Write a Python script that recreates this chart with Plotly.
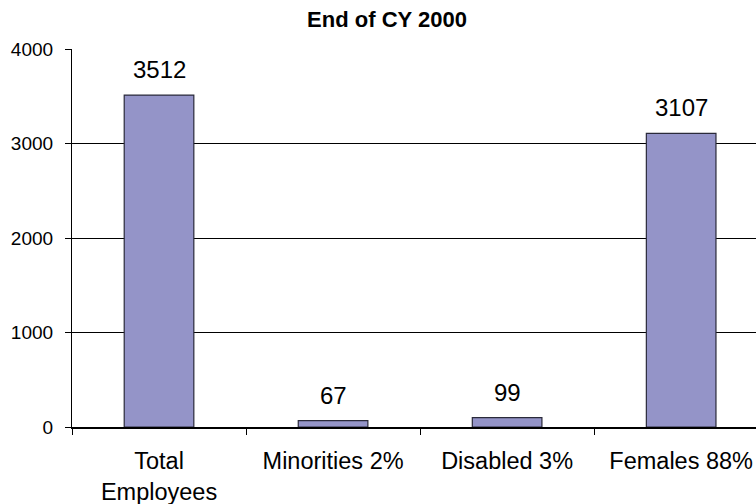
import plotly.graph_objects as go

categories = ["Total<br>Employees", "Minorities 2%", "Disabled 3%", "Females 88%"]
counts = [3512, 67, 99, 3107]
y_ticks = [0, 1000, 2000, 3000, 4000]

FONT = "Liberation Sans, Arial, sans-serif"

fig = go.Figure(
    go.Bar(
        x=categories,
        y=counts,
        width=0.4,
        marker=dict(color="#9494C8", line=dict(color="#2a2a3a", width=1.2)),
    )
)

# value labels sitting above each bar
for cat, val in zip(categories, counts):
    fig.add_annotation(
        x=cat,
        y=val,
        text=str(val),
        showarrow=False,
        yanchor="bottom",
        yshift=10,
        font=dict(family=FONT, size=24, color="black"),
    )

fig.update_layout(
    width=756,
    height=504,
    margin=dict(l=72, r=0, t=49, b=77),
    paper_bgcolor="white",
    plot_bgcolor="white",
    showlegend=False,
    font=dict(family=FONT, color="black"),
    title=dict(
        text="<b>End of CY 2000</b>",
        x=387 / 756,
        xanchor="center",
        y=1 - 19 / 504,
        yanchor="middle",
        font=dict(family=FONT, size=22, color="black"),
    ),
)

fig.update_xaxes(
    range=[-0.5, 3.43],
    tickson="boundaries",
    ticks="outside",
    ticklen=6,
    tickcolor="black",
    showline=True,
    linecolor="black",
    linewidth=1.5,
    showgrid=False,
    ticklabelstandoff=12,
    tickfont=dict(family=FONT, size=23.5, color="black"),
)

fig.update_yaxes(
    range=[0, 4000],
    tickvals=y_ticks,
    ticks="outside",
    ticklen=6,
    tickcolor="black",
    showline=True,
    linecolor="black",
    linewidth=1.2,
    showgrid=True,
    gridcolor="black",
    gridwidth=1,
    zeroline=False,
    ticklabelstandoff=8,
    tickfont=dict(family=FONT, size=19, color="black"),
)

fig.write_html("out.html")
